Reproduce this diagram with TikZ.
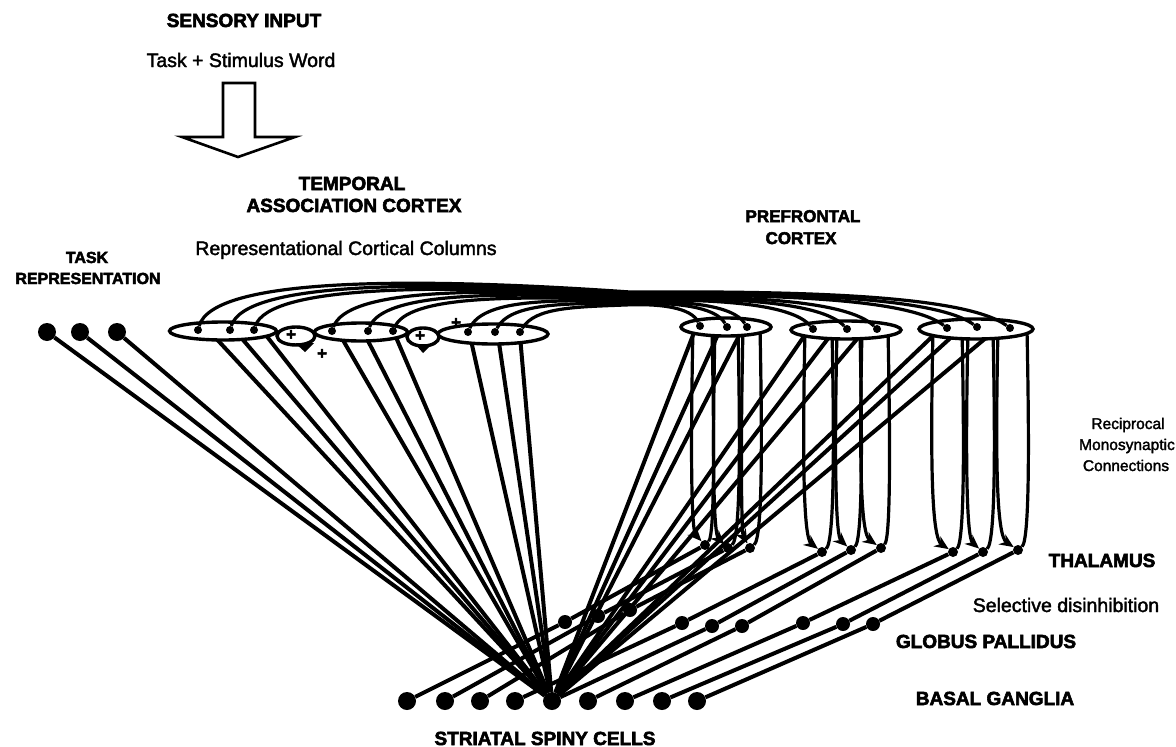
\documentclass[tikz,border=0pt]{standalone}
\usepackage{fontspec}
\setmainfont{Liberation Sans}
\newfontfamily\hdfont[FakeBold=3]{Liberation Sans Bold}
\newfontfamily\rgfont[FakeBold=2]{Liberation Sans}
\usetikzlibrary{shapes.geometric,arrows.meta}
\pgfdeclarelayer{lines}
\pgfdeclarelayer{ells}
\pgfsetlayers{lines,ells,main}
\tikzset{
 hd/.style={font=\hdfont\fontsize{19}{22}\selectfont, anchor=base, inner sep=0pt},
 rg/.style={font=\rgfont\fontsize{19.5}{22}\selectfont, anchor=base, inner sep=0pt},
 bigdot/.style={circle, fill=black, minimum size=18pt, inner sep=0pt},
 gpdot/.style={circle, fill=black, minimum size=14pt, inner sep=0pt},
 thdot/.style={circle, fill=black, minimum size=10pt, inner sep=0pt},
 syn/.style={circle, fill=black, minimum size=8pt, inner sep=0pt},
 col/.style={ellipse, draw, fill=white, line width=3.4pt, inner sep=0pt},
 wire/.style={line width=4pt},
 loopw/.style={line width=3.2pt},
 arcw/.style={line width=3.2pt},
 plus/.style={font=\hdfont\fontsize{17}{17}\selectfont, inner sep=0pt},
}
\begin{document}
\begin{tikzpicture}[x=1pt,y=-1pt]
\useasboundingbox (0,0) rectangle (1176,747);

% ---------- texts
\node[hd] (sens) at (244,27) {SENSORY INPUT};
\node[rg] (stim) at (241,67) {Task + Stimulus Word};
\node[hd] (temp1) at (352,190) {TEMPORAL};
\node[hd] (temp2) at (354,212) {ASSOCIATION CORTEX};
\node[rg] (rcc) at (346,255) {Representational Cortical Columns};
\node[hd,font=\hdfont\fontsize{16}{18}\selectfont] (task1) at (87,263) {TASK};
\node[hd,font=\hdfont\fontsize{16}{18}\selectfont] (task2) at (88,284) {REPRESENTATION};
\node[hd,font=\hdfont\fontsize{17}{20}\selectfont] (pfc1) at (803,222) {PREFRONTAL};
\node[hd,font=\hdfont\fontsize{17}{20}\selectfont] (pfc2) at (801,244) {CORTEX};
\node[rg,font=\rgfont\fontsize{15.5}{18}\selectfont] (rec1) at (1128,429) {Reciprocal};
\node[rg,font=\rgfont\fontsize{15.5}{18}\selectfont] (rec2) at (1127,450) {Monosynaptic};
\node[rg,font=\rgfont\fontsize{15.5}{18}\selectfont] (rec3) at (1126,471) {Connections};
\node[hd] (thal) at (1102,567) {THALAMUS};
\node[rg] (sel) at (1066,612) {Selective disinhibition};
\node[hd] (glob) at (986,648) {GLOBUS PALLIDUS};
\node[hd] (basal) at (995,705) {BASAL GANGLIA};
\node[hd] (ssc) at (545,745) {STRIATAL SPINY CELLS};

% ---------- hollow input arrow
\draw[line width=2.6pt, line join=miter] (223,83) -- (255,83) -- (255,137) -- (295,137)
   -- (238,157) -- (182,137) -- (223,137) -- cycle;

% ---------- dots
\foreach \i/\x in {1/47,2/80,3/117} \node[bigdot] (tr\i) at (\x,332) {};
\foreach \i/\x in {1/407,2/445,3/480,4/515,5/552,6/588,7/625,8/662,9/697}
   \node[bigdot] (s\i) at (\x,701) {};
\foreach \i/\x/\y in {1/565/622,2/598/616,3/630/610,4/682/623,5/712/626,6/742/626,7/803/623,8/843/624,9/873/624}
   \node[gpdot] (g\i) at (\x,\y) {};
\foreach \i/\x/\y in {1/705/545,2/728/548,3/750/548,4/822/552,5/851/550,6/881/548,7/953/552,8/983/552,9/1018/550}
   \node[thdot] (th\i) at (\x,\y) {};

% ---------- start points of projections
\foreach \i/\x/\y in {1/212/334,2/238/334,3/265/334,4/340/335,5/365/335,6/395/335,7/470/336,8/498/336,9/520/336}
   \coordinate (tb\i) at (\x,\y);
\foreach \i/\x/\y in {1/695/330,2/720/330,3/742/330,4/807/332,5/833/332,6/863/332,7/937/332,8/957/332,9/993/332}
   \coordinate (pb\i) at (\x,\y);

% ---------- column ellipses
\begin{pgfonlayer}{ells}
\node[col, minimum width=38pt, minimum height=18pt] (B1) at (296,336) {};
\node[col, minimum width=32pt, minimum height=18pt] (B2) at (423,337) {};
\node[col, minimum width=107pt, minimum height=18pt] (T1) at (223,331) {};
\node[col, minimum width=93pt, minimum height=18pt] (T2) at (361,332) {};
\node[col, minimum width=110pt, minimum height=20pt] (T3) at (493,334) {};
\node[col, minimum width=90pt, minimum height=18pt] (P1) at (726,327) {};
\node[col, minimum width=110pt, minimum height=18pt] (P2) at (846,330) {};
\node[col, minimum width=114pt, minimum height=20pt] (P3) at (976,329) {};
\fill (295,343) -- (314,343) -- (305,352) -- cycle;
\fill (415,344) -- (432,344) -- (423,353) -- cycle;
\end{pgfonlayer}

% ---------- projections to striatum, basal ganglia loops
\begin{pgfonlayer}{lines}
\foreach \i in {1,2,3} \draw[wire] (tr\i) -- (s5);
\foreach \i in {1,...,9} \draw[wire] (tb\i) -- (s5);
\foreach \i in {1,...,9} \draw[wire] (pb\i) -- (s5);
\foreach \i in {1,...,9} \draw[wire] (s\i) -- (g\i) -- (th\i);
\foreach \k/\xl/\xr/\ty/\yc in {1/693/712/545/327,2/715/738/548/327,3/743/760/548/327,
     4/805/832/552/330,5/837/860/550/330,6/862/888/548/330,
     7/933/962/552/329,8/968/993/552/329,9/998/1027/550/329}{
  \coordinate (lL\k) at (\xl,\yc);
  \coordinate (lR\k) at (\xr,\yc);
  \draw[loopw,-{Stealth[length=14pt,width=12pt]}] (lL\k) .. controls (\xl-3,470) and (\xl-1,\ty-14) .. (th\k);
  \draw[loopw] (th\k) .. controls (\xr+3,\ty-10) and (\xr+2,430) .. (lR\k);
}
\end{pgfonlayer}

% ---------- synapses
\foreach \i/\x/\y in {1/198/330,2/230/330,3/254/330,4/332/331,5/368/331,6/393/331,7/468/332,8/495/332,9/520/332}
   \node[syn] (ts\i) at (\x,\y) {};
\foreach \i/\x/\y in {1/700/326,2/727/327,3/747/327,4/813/329,5/847/329,6/877/329,7/947/328,8/977/327,9/1010/328}
   \node[syn] (ps\i) at (\x,\y) {};

% ---------- cortico-cortical arcs
\foreach \j/\xt/\xp in {1/198/1010,2/230/977,3/254/947,4/332/877,5/368/847,6/393/813,7/468/747,8/495/727,9/520/700}{
  \pgfmathsetmacro{\Y}{273.25+3.75*\j}
  \pgfmathsetmacro{\My}{290.4+1.6*\j}
  \pgfmathsetmacro{\ca}{\xt+0.5*(630-\xt)}
  \pgfmathsetmacro{\cb}{630+0.45*(\xp-630)}
  \pgfmathsetmacro{\cc}{\xp-0.12*(\xp-630)}
  \pgfmathtruncatemacro{\q}{10-\j}
  \coordinate (m\j) at (630,\My);
  \draw[arcw] (ts\j) .. controls (\xt+15,\Y) and (\ca,\Y) .. (m\j)
      .. controls (\cb,\My-1) and (\cc,\My+3) .. (ps\q);
}

% ---------- plus signs
\node[plus] (pl1) at (291,335) {+};
\node[plus] (pl2) at (322,354) {+};
\node[plus] (pl3) at (420,336) {+};
\node[plus] (pl4) at (456,323) {+};
\end{tikzpicture}
\end{document}
